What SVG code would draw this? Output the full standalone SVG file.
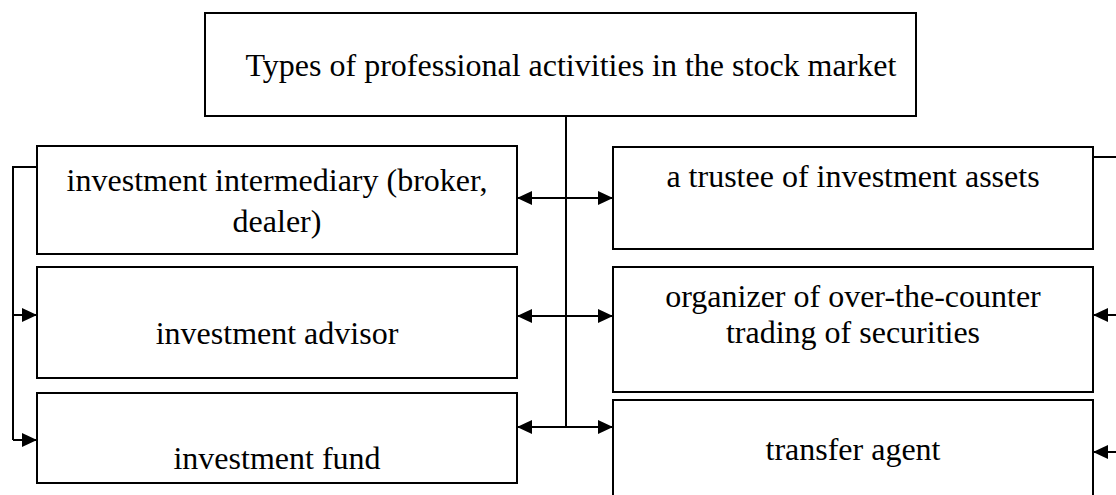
<svg xmlns="http://www.w3.org/2000/svg" width="1116" height="495" viewBox="0 0 1116 495">
<defs>
<style>
.box{fill:#fff;stroke:#000;stroke-width:2}
.t{font-family:"Liberation Serif","Times New Roman",serif;font-size:32px;fill:#000;text-anchor:middle}
.c{fill:none;stroke:#000;stroke-width:2}
</style>
<marker id="ah" markerUnits="userSpaceOnUse" markerWidth="16" markerHeight="15" refX="15" refY="7.5" orient="auto-start-reverse">
<path d="M0,0.5 L15,7.5 L0,14.5 z" fill="#000"/>
</marker>
</defs>
<rect width="1116" height="495" fill="#fff"/>
<g id="connectors">
<line class="c" x1="566" y1="116" x2="566" y2="427"/>
<line class="c" x1="517" y1="198" x2="613" y2="198" marker-start="url(#ah)" marker-end="url(#ah)"/>
<line class="c" x1="517" y1="316" x2="613" y2="316" marker-start="url(#ah)" marker-end="url(#ah)"/>
<line class="c" x1="517" y1="427" x2="613" y2="427" marker-start="url(#ah)" marker-end="url(#ah)"/>
<polyline class="c" points="37,167 13,167 13,440"/>
<line class="c" x1="13" y1="315" x2="37" y2="315" marker-end="url(#ah)"/>
<line class="c" x1="13" y1="440" x2="37" y2="440" marker-end="url(#ah)"/>
<line class="c" x1="1093" y1="157" x2="1116" y2="157"/>
<line class="c" x1="1116" y1="315" x2="1093" y2="315" marker-end="url(#ah)"/>
<line class="c" x1="1116" y1="452" x2="1093" y2="452" marker-end="url(#ah)"/>
</g>
<g id="root">
<rect class="box" x="205" y="13" width="711" height="103"/>
<text class="t" x="571" y="76">Types of professional activities in the stock market</text>
</g>
<g id="broker">
<rect class="box" x="37" y="146" width="480" height="108"/>
<text class="t" x="277" y="191">investment intermediary (broker,</text>
<text class="t" x="277" y="232">dealer)</text>
</g>
<g id="advisor">
<rect class="box" x="37" y="267" width="480" height="111"/>
<text class="t" x="277" y="344">investment advisor</text>
</g>
<g id="fund">
<rect class="box" x="37" y="393" width="480" height="90"/>
<text class="t" x="277" y="469">investment fund</text>
</g>
<g id="trustee">
<rect class="box" x="613" y="147" width="480" height="102"/>
<text class="t" x="853" y="187">a trustee of investment assets</text>
</g>
<g id="organizer">
<rect class="box" x="613" y="267" width="480" height="125"/>
<text class="t" x="853" y="307">organizer of over-the-counter</text>
<text class="t" x="853" y="343">trading of securities</text>
</g>
<g id="transfer">
<rect class="box" x="613" y="400" width="480" height="110"/>
<text class="t" x="853" y="460">transfer agent</text>
</g>
</svg>
